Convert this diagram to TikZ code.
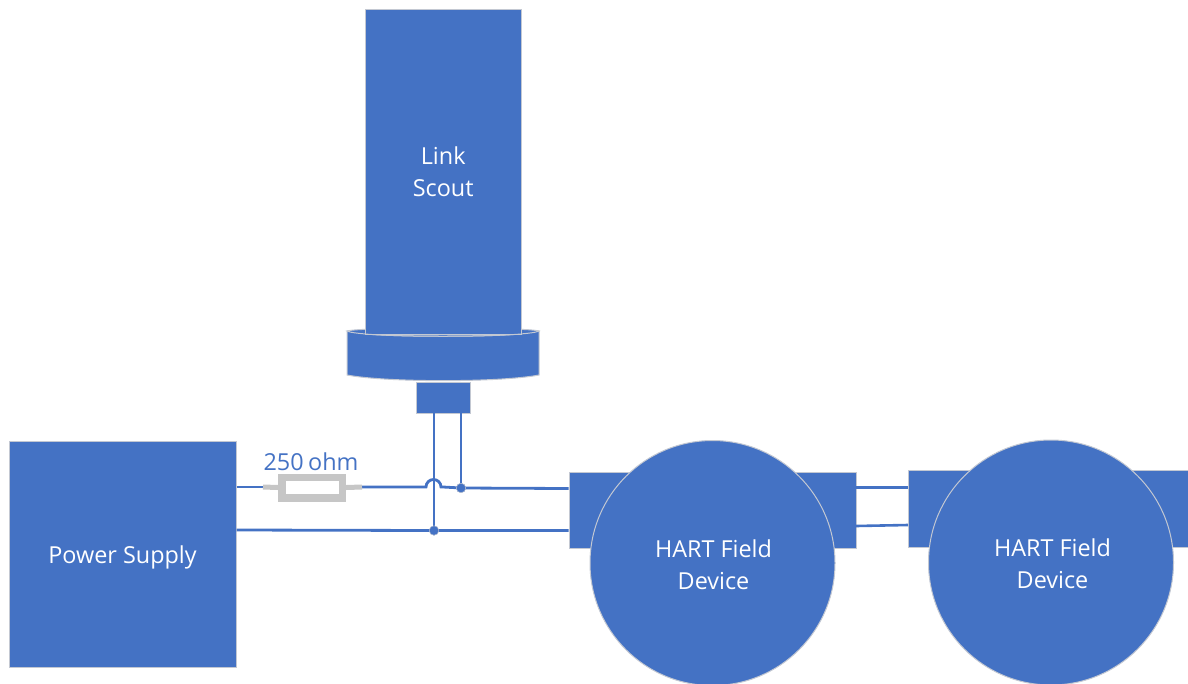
\documentclass[tikz,border=0pt]{standalone}
\usepackage{fontspec}
\setmainfont{Open Sans}
\definecolor{fillblue}{HTML}{4472C4}
\definecolor{edgegrey}{HTML}{C3C8D2}
\definecolor{resgrey}{HTML}{C6C6C6}
\tikzset{
  block/.style={draw=edgegrey,line width=1pt,fill=fillblue,text=white,inner sep=0pt,align=center,font=\fontsize{23.4}{32}\selectfont},
  boxblock/.style={block,rectangle,anchor=north west},
  roundblock/.style={block,circle,minimum size=245pt},
  devtext/.style={text=white,inner sep=0pt,align=center,font=\fontsize{23.4}{32}\selectfont},
  wire/.style={draw=fillblue,line width=2.8pt},
  thinwire/.style={draw=fillblue,line width=2.6pt},
  lead/.style={draw=resgrey,line width=5pt},
  resbody/.style={draw=resgrey,line width=7.5pt,fill=white,minimum width=60.5pt,minimum height=20.5pt,inner sep=0pt},
  joint/.style={circle,fill=fillblue,draw=edgegrey,line width=0.4pt,minimum size=9.5pt,inner sep=0pt},
  wirelabel/.style={text=fillblue,font=\fontsize{23.4}{26}\selectfont,inner sep=0pt}
}
\begin{document}
\begin{tikzpicture}[x=1pt,y=-1pt]
\useasboundingbox (0,0) rectangle (1188,683);
\clip (0,0) rectangle (1188,683);
% power supply
\node[boxblock,minimum width=227pt,minimum height=226pt,text depth=-8pt] (ps) at (8.5,441) {Power Supply};
% cylinder collar
\path[fill=fillblue,draw=edgegrey,line width=1pt] (347,331) -- (539,331) -- (539,375) .. controls (500,382.5) and (386,382.5) .. (347,375) -- cycle;
\path[fill=fillblue,draw=edgegrey,line width=1pt] (347,331) .. controls (360,327) and (526,327) .. (539,331) .. controls (526,338) and (360,338) .. (347,331) -- cycle;
% link scout body
\node[boxblock,minimum width=156pt,minimum height=325pt,align=center] (ls) at (364.7,8.7) {Link\\Scout};
\draw[edgegrey,line width=1pt] (365,334) .. controls (400,337) and (486,337) .. (521,334);
% stem
\node[boxblock,minimum width=54pt,minimum height=31pt] (stem) at (415.7,382) {};
% field device 1 and 2 side blocks
\node[boxblock,minimum width=287pt,minimum height=76pt] (fd1) at (568.7,472) {};
\node[boxblock,minimum width=300pt,minimum height=77pt] (fd2) at (907.7,470) {};
\node[roundblock] (dev1) at (712.5,563) {};
\node[roundblock] (dev2) at (1051,562.5) {};
\node[devtext] (dev1text) at (713.5,565) {HART Field\\Device};
\node[devtext] (dev2text) at (1052.5,564) {HART Field\\Device};
% named wire points
\coordinate (psTop) at (ps.north east |- 0,487);
\coordinate (psBot) at (ps.north east |- 0,530);
\coordinate (arcL) at (424,487);
\coordinate (arcR) at (443,487);
\coordinate (fdTop) at (fd1.north west |- 0,488.5);
\coordinate (fdBot) at (fd1.north west |- 0,530.5);
\coordinate (r1) at (263,487);
\coordinate (r2) at (362,487);
\coordinate (stemA) at (434,413);
\coordinate (stemB) at (461,413);
\node[joint] (j1) at (461,488) {};
\node[joint] (j2) at (434,530.5) {};
% wires
\draw[wire] (psTop) -- (r1);
\draw[wire] (r2) -- (arcL) -- (426,487) arc[start angle=180,end angle=0,x radius=7.5,y radius=-7.5] -- (arcR) -- (j1.center) -- (fdTop);
\draw[wire] (psBot) -- (j2.center) -- (fdBot);
\draw[wire] (stemA) -- (j2.center);
\draw[wire] (stemB) -- (j1.center);
\node[joint] at (j1) {};
\node[joint] at (j2) {};
% resistor
\node[resbody] (res) at (312,487.5) {};
\draw[lead] (r1) -- (res.west);
\draw[lead] (r2) -- (res.east);
\node[resbody] at (res) {};
\node[wirelabel] (rlabel) at (311,462) {250\hspace{-1.5pt} ohm};
% links between devices
\draw[thinwire] (856,487.5) coordinate (a1) -- (908,487.5) coordinate (b1);
\draw[thinwire] (856,526) coordinate (a2) -- (908,525) coordinate (b2);
\end{tikzpicture}
\end{document}
